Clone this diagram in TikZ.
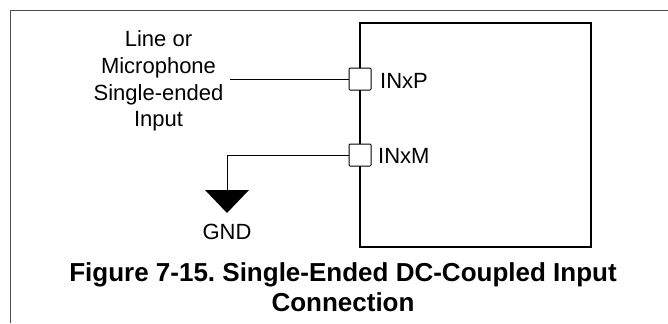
\documentclass[tikz,border=0pt]{standalone}
\usepackage{fontspec}
\setmainfont{Liberation Sans}
\frenchspacing
\begin{document}
\begin{tikzpicture}[x=1bp,y=-1bp,
  lbl/.style={inner sep=0pt,font=\fontsize{22bp}{26.7bp}\selectfont},
  captext/.style={inner sep=0pt,align=center,font=\fontsize{26bp}{29.5bp}\selectfont\bfseries},
  pin/.style={draw,fill=white,line width=1bp,minimum size=22bp,inner sep=0pt,rounded corners=1bp},
  wire/.style={line width=1bp},
  frame/.style={line width=1bp,draw=black!70}]
\useasboundingbox (0,0) rectangle (668,323);
% frame
\coordinate (fbl) at (10,323);
\coordinate (ftl) at (10,10);
\coordinate (ftr) at (668,10);
\draw[frame] (fbl) -- (ftl) -- (ftr);
% chip box
\node[draw,line width=2.5bp,minimum width=231bp,minimum height=224bp,inner sep=0pt] (chip) at (475.5,135) {};
% pins
\node[pin] (pP) at (360,79) {};
\node[pin] (pM) at (360,155) {};
\node[lbl,anchor=base west] (tP) at (380,88.3) {INxP};
\node[lbl,anchor=base west] (tM) at (378,163.3) {INxM};
% input label
\node[lbl,align=center] (inlbl) at (158.5,81) {Line or\\Microphone\\Single-ended\\Input};
\coordinate (wP) at (230,79);
\draw[wire] (wP) -- (pP.west);
% ground
\coordinate (gtop) at (227,190);
\draw[wire] (pM.west) -| (gtop);
\fill (205,190) -- (249,190) -- (227,213) -- cycle;
\node[lbl,anchor=base] (gnd) at (227,239) {GND};
% caption
\node[captext] (caption) at (343,287) {Figure 7-15. Single-Ended DC-Coupled Input\\Connection};
\end{tikzpicture}
\end{document}
